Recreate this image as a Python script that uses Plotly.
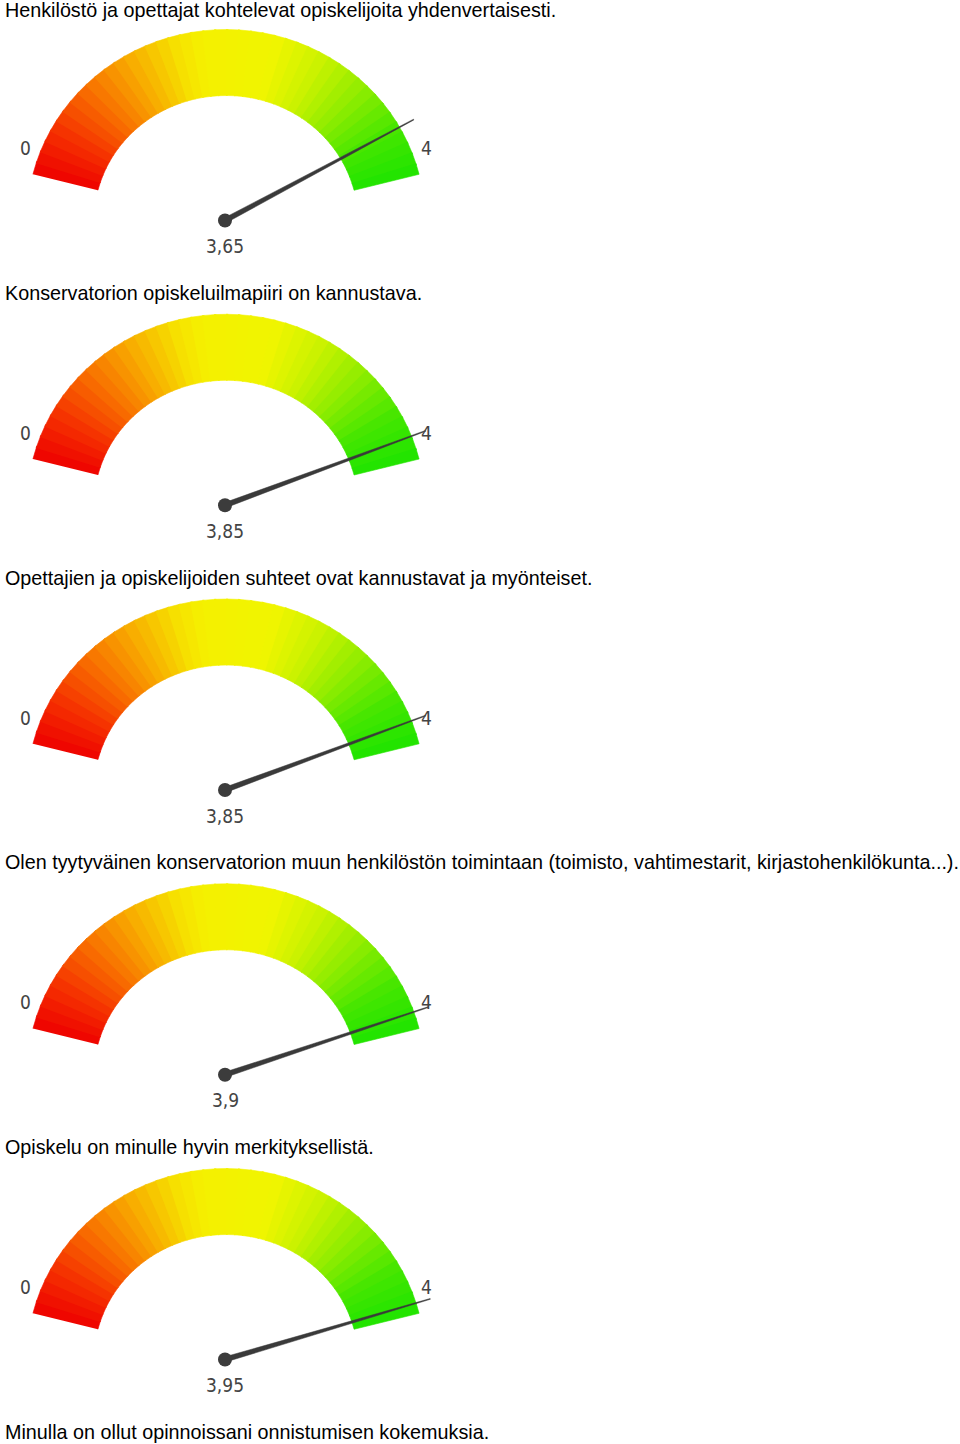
import numpy as np
import plotly.graph_objects as go

# ---------------- data ----------------
titles = [
    "Henkilöstö ja opettajat kohtelevat opiskelijoita yhdenvertaisesti.",
    "Konservatorion opiskeluilmapiiri on kannustava.",
    "Opettajien ja opiskelijoiden suhteet ovat kannustavat ja myönteiset.",
    "Olen tyytyväinen konservatorion muun henkilöstön toimintaan (toimisto, vahtimestarit, kirjastohenkilökunta...).",
    "Opiskelu on minulle hyvin merkityksellistä.",
]
final_title = "Minulla on ollut opinnoissani onnistumisen kokemuksia."
values = [3.65, 3.85, 3.85, 3.9, 3.95]
scale_min = 0
scale_max = 4

# ---------------- style ----------------
W, H = 960, 1444
BLOCK = 284.75
CX, CY = 226, 220.5          # arc centre in first block (pixels)
PX = 225                      # needle pivot x
RX_OUT, RY_OUT = 199, 191
RX_IN, RY_IN = 132, 125
T0, T1 = 166.0, 14.0          # arc angular extent (deg)
NSEG = 44
NEEDLE_A0, NEEDLE_A1 = 170.5, 14.5   # needle angle for min / max
NEEDLE_LEN = 214
LABEL_FONT = "Liberation Sans Narrow, DejaVu Sans Condensed, Arial Narrow, sans-serif"
TITLE_FONT = "Liberation Sans, Arial, Helvetica, sans-serif"
TITLE_SIZE = 19.75

stops_f = [0.0, 0.1, 0.2, 0.3, 0.4, 0.45, 0.6, 0.7, 0.8, 0.9, 1.0]
stops_c = [(238, 0, 0), (245, 50, 0), (248, 110, 0), (248, 170, 0), (246, 225, 0),
           (245, 240, 0), (240, 245, 0), (200, 242, 0), (140, 236, 0), (70, 230, 0), (30, 228, 0)]


def color_at(f):
    c = [np.interp(f, stops_f, [s[i] for s in stops_c]) for i in range(3)]
    return "rgb(%d,%d,%d)" % tuple(int(round(v)) for v in c)


fig = go.Figure()

for k, (title, val) in enumerate(zip(titles, values)):
    off = k * BLOCK
    cy = CY + off
    # arc segments
    for s in range(NSEG):
        fa, fb = s / NSEG, (s + 1) / NSEG
        ta = np.radians(T0 + (T1 - T0) * fa)
        tb = np.radians(T0 + (T1 - T0) * min(fb + 0.004, 1))
        tt = np.linspace(ta, tb, 6)
        xs = list(CX + RX_OUT * np.cos(tt)) + list(CX + RX_IN * np.cos(tt[::-1]))
        ys = list(cy - RY_OUT * np.sin(tt)) + list(cy - RY_IN * np.sin(tt[::-1]))
        col = color_at((fa + fb) / 2)
        fig.add_trace(go.Scatter(x=xs, y=ys, fill="toself", fillcolor=col, mode="lines",
                                 line=dict(width=0.6, color=col), hoverinfo="skip"))
    # needle
    frac = (val - scale_min) / (scale_max - scale_min)
    ang = np.radians(NEEDLE_A0 + (NEEDLE_A1 - NEEDLE_A0) * frac)
    ux, uy = np.cos(ang), -np.sin(ang)
    nx, ny = -uy, ux
    tipx, tipy = PX + NEEDLE_LEN * ux, cy + NEEDLE_LEN * uy
    wb, wt = 2.6, 0.4
    xs = [PX + nx * wb, tipx + nx * wt, tipx - nx * wt, PX - nx * wb, PX + nx * wb]
    ys = [cy + ny * wb, tipy + ny * wt, tipy - ny * wt, cy - ny * wb, cy + ny * wb]
    fig.add_trace(go.Scatter(x=xs, y=ys, fill="toself", fillcolor="#3a3a3a", mode="lines",
                             line=dict(width=0.5, color="#3a3a3a"), hoverinfo="skip"))
    fig.add_trace(go.Scatter(x=[PX], y=[cy], mode="markers",
                             marker=dict(size=14, color="#3c3c3c"), hoverinfo="skip"))
    # labels
    fig.add_annotation(x=25, y=148 + off, text=str(scale_min), showarrow=False,
                       font=dict(family=LABEL_FONT, size=19, color="#444"))
    fig.add_annotation(x=426, y=148 + off, text=str(scale_max), showarrow=False,
                       font=dict(family=LABEL_FONT, size=19, color="#444"))
    fig.add_annotation(x=PX, y=246 + off, text=f"{val:g}".replace(".", ","), showarrow=False,
                       font=dict(family=LABEL_FONT, size=19, color="#444"))
    fig.add_annotation(x=3, y=(10 if k == 0 else 8) + off, text=title, showarrow=False, xanchor="left",
                       yanchor="middle", font=dict(family=TITLE_FONT, size=TITLE_SIZE, color="black"))

fig.add_annotation(x=3, y=8 + 5 * BLOCK, text=final_title, showarrow=False, xanchor="left",
                   yanchor="middle", font=dict(family=TITLE_FONT, size=TITLE_SIZE, color="black"))

fig.update_xaxes(range=[0, W], visible=False, fixedrange=True)
fig.update_yaxes(range=[H, 0], visible=False, fixedrange=True)
fig.update_layout(width=W, height=H, margin=dict(l=0, r=0, t=0, b=0),
                  plot_bgcolor="white", paper_bgcolor="white", showlegend=False)

fig.write_html("out.html")
